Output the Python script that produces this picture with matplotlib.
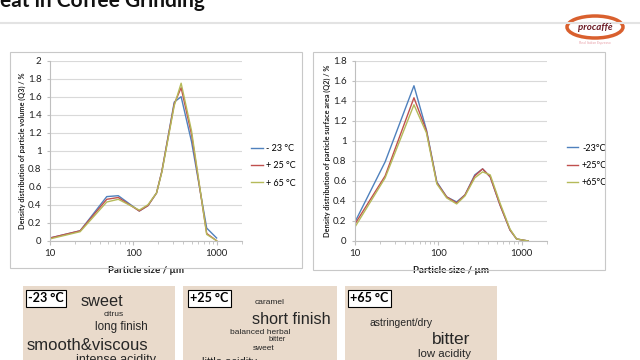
import matplotlib
matplotlib.use('Agg')
import matplotlib.pyplot as plt
from matplotlib.patches import Rectangle, Ellipse

plt.rcParams['font.family'] = ['Lato', 'DejaVu Sans']

W, H = 640, 360

# --- left panel: volume distribution (Q3)
size_vol = [10, 23, 48, 66, 118, 150, 190, 220, 310, 375, 500, 760, 1000]
vol_m23 = [0.03, 0.11, 0.49, 0.50, 0.33, 0.39, 0.53, 0.77, 1.54, 1.60, 1.10, 0.14, 0.03]
vol_p25 = [0.03, 0.11, 0.46, 0.48, 0.33, 0.39, 0.53, 0.77, 1.52, 1.70, 1.18, 0.08, 0.0]
vol_p65 = [0.02, 0.10, 0.43, 0.46, 0.34, 0.40, 0.53, 0.76, 1.50, 1.75, 1.22, 0.07, 0.0]
vol_labels = ['- 23 °C', '+ 25 °C', '+ 65 °C']

# --- right panel: surface area distribution (Q2)
size_area = [10, 23, 51, 72, 96, 126, 166, 209, 274, 340, 420, 550, 725, 870, 1200]
area_m23 = [0.19, 0.79, 1.55, 1.11, 0.59, 0.44, 0.39, 0.46, 0.66, 0.72, 0.64, 0.36, 0.11, 0.02, 0.0]
area_p25 = [0.17, 0.65, 1.43, 1.10, 0.58, 0.44, 0.38, 0.46, 0.65, 0.72, 0.64, 0.36, 0.11, 0.02, 0.0]
area_p65 = [0.14, 0.63, 1.36, 1.08, 0.57, 0.43, 0.37, 0.45, 0.63, 0.69, 0.66, 0.38, 0.12, 0.02, 0.0]
area_labels = ['-23°C', '+25°C', '+65°C']

colors = ['#4F81BD', '#C0504D', '#B5BA5A']

# --- tasting notes: (text, x, baseline y, size)
notes = {
    '-23 °C': [('sweet', 102, 306, 11.7), ('citrus', 114, 316, 6),
               ('long finish', 121, 330, 8.4), ('smooth&viscous', 87, 350, 12),
               ('intense acidity', 116, 363, 9)],
    '+25 °C': [('caramel', 270, 304, 6), ('short finish', 291, 324, 11.7),
               ('balanced herbal', 260, 334, 6), ('bitter', 277, 341, 5.5),
               ('sweet', 264, 350, 6), ('little acidity', 229, 365, 8)],
    '+65 °C': [('astringent/dry', 401, 326, 7.5), ('bitter', 451, 344, 12.5),
               ('low acidity', 444, 357, 8.2)],
}
note_boxes = [(23, 175, 26), (183, 337, 188), (345, 497, 348)]


def fx(px):
    return px / W


def fy(py):
    return 1 - py / H


def panel(fig, rect, x, series, labels, ymax, ylabel, leg_anchor):
    ax = fig.add_axes(rect)
    for y, lab, c in zip(series, labels, colors):
        ax.plot(x, y, color=c, lw=1.0, label=lab)
    ax.set_xscale('log')
    ax.set_xlim(10, 2000)
    ax.set_ylim(0, ymax)
    ticks = [round(v * 0.2, 1) for v in range(int(round(ymax / 0.2)) + 1)]
    ax.set_yticks(ticks)
    ax.set_yticklabels([f'{t:g}' for t in ticks])
    ax.set_xticks([10, 100, 1000])
    ax.set_xticklabels(['10', '100', '1000'])
    ax.grid(axis='y', color='#D9D9D9', lw=0.8)
    ax.set_axisbelow(True)
    for s in ['top', 'right']:
        ax.spines[s].set_visible(False)
    for s in ['left', 'bottom']:
        ax.spines[s].set_color('#BFBFBF')
        ax.spines[s].set_linewidth(0.8)
    ax.tick_params(axis='both', labelsize=7, colors='#BFBFBF', labelcolor='#222222')
    ax.tick_params(axis='x', which='major', length=3, pad=3)
    ax.tick_params(axis='x', which='minor', length=2, color='#BFBFBF')
    ax.tick_params(axis='y', length=2, pad=4)
    ax.set_ylabel(ylabel, fontsize=5.3, fontweight='bold', color='#222222')
    ax.yaxis.set_label_coords(-0.125, 0.5)
    ax.set_xlabel('Particle size / µm', fontsize=7, fontweight='bold', color='#222222')
    ax.xaxis.set_label_coords(0.5, -0.14)
    ax.legend(loc='center left', bbox_to_anchor=leg_anchor, frameon=False, fontsize=6.5,
              handlelength=1.3, handletextpad=0.4, labelspacing=0.9, borderaxespad=0)
    return ax


fig = plt.figure(figsize=(6.4, 3.6), dpi=100)

# title and header
fig.text(0, fy(7), 'eat in Coffee Grinding', fontsize=15, fontweight='bold', color='#111111',
         va='baseline', ha='left')
fig.add_artist(plt.Line2D([0, 1], [fy(23), fy(23)], color='#E3E3E3', lw=1.5))

# logo
fig.add_artist(Ellipse((fx(595), fy(27)), 56 / W, 22 / H, facecolor='white',
                       edgecolor='#D9602E', lw=2.5, transform=fig.transFigure))
fig.text(fx(595), fy(27), 'procaffè', fontsize=7, fontweight='bold', style='italic',
         color='#6B1A24', ha='center', va='center')
fig.text(fx(595), fy(43), 'Real Italian Espresso', fontsize=2.5, color='#E8A0A8',
         ha='center', va='center')

# chart frames
fig.add_artist(Rectangle((fx(10), fy(268)), 292 / W, 216 / H, fill=False,
                         edgecolor='#C8C8C8', lw=0.8, transform=fig.transFigure))
fig.add_artist(Rectangle((fx(313), fy(270)), 292 / W, 218 / H, fill=False,
                         edgecolor='#C8C8C8', lw=0.8, transform=fig.transFigure))

panel(fig, [fx(50), fy(240.7), 191.7 / W, 180 / H], size_vol,
      [vol_m23, vol_p25, vol_p65], vol_labels, 2.0,
      'Density distribution of particle volume (Q3) / %', (1.03, 0.415))
panel(fig, [fx(355), fy(241), 191.7 / W, 180.3 / H], size_area,
      [area_m23, area_p25, area_p65], area_labels, 1.8,
      'Density distribution of particle surface area (Q2) / %', (1.085, 0.42))

# tasting note boxes
for (x0, x1, lx), (temp, words) in zip(note_boxes, notes.items()):
    fig.add_artist(Rectangle((fx(x0), 0), (x1 - x0) / W, (360 - 286) / H,
                             facecolor='#E9DACB', edgecolor='none',
                             transform=fig.transFigure))
    fig.text(fx(lx + 2), fy(302), temp, fontsize=9, fontweight='bold', color='black',
             ha='left', va='baseline',
             bbox=dict(boxstyle='square,pad=0.2', facecolor='white', edgecolor='black', lw=0.8))
    for word, x, y, size in words:
        fig.text(fx(x), fy(y), word, fontsize=size, color='#262626', ha='center',
                 va='baseline', family=['Liberation Sans', 'DejaVu Sans'])

fig.savefig('out.png', dpi=100)
